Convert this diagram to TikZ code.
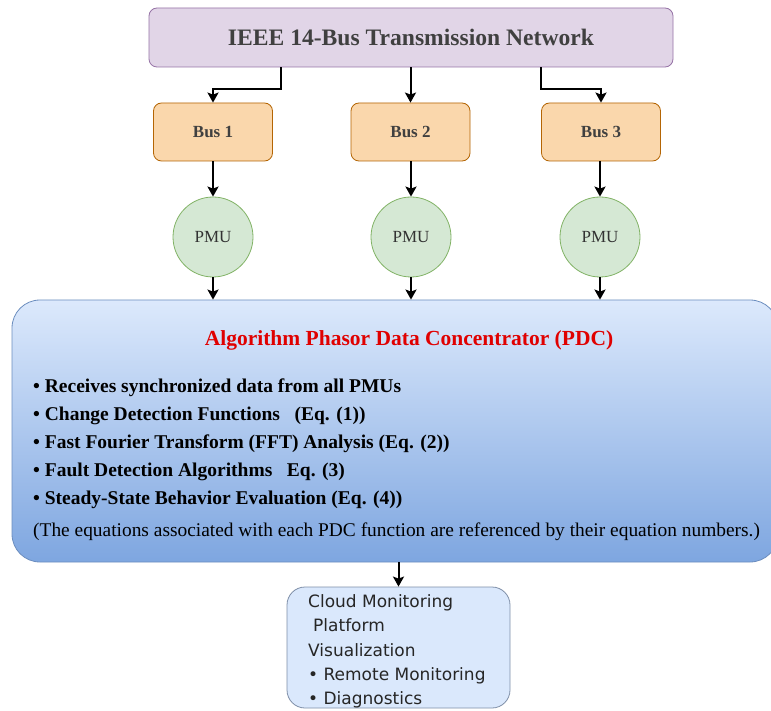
\documentclass[tikz,border=0pt]{standalone}
\usepackage{fontspec}
\setmainfont{Liberation Serif}
\newfontfamily\dejavu{DejaVu Sans}
\usetikzlibrary{arrows.meta,calc}
\definecolor{netfill}{HTML}{E1D5E7}
\definecolor{netline}{HTML}{9673A6}
\definecolor{busfill}{HTML}{FAD7AC}
\definecolor{busline}{HTML}{B46504}
\definecolor{pmufill}{HTML}{D5E8D4}
\definecolor{pmuline}{HTML}{82B366}
\definecolor{pdctop}{HTML}{DCE9FC}
\definecolor{pdcbot}{HTML}{7EA6E0}
\definecolor{pdcline}{HTML}{6C8EBF}
\definecolor{cloudfill}{HTML}{DAE8FC}
\definecolor{cloudline}{HTML}{7F8FA8}
\definecolor{titlegray}{HTML}{404040}
\definecolor{pdcred}{HTML}{E00000}
\tikzset{
  arr/.style={line width=2pt,-{Stealth[length=10pt,width=11pt,inset=2pt]}},
  netbox/.style={draw=netline,fill=netfill,line width=0.8pt,rounded corners=8pt,
    minimum width=524pt,minimum height=59pt,inner sep=0pt,
    font=\fontsize{23.6}{26}\selectfont\bfseries,text=titlegray},
  busbox/.style={draw=busline,fill=busfill,line width=0.8pt,rounded corners=8pt,
    minimum width=119pt,minimum height=58pt,inner sep=0pt,
    font=\fontsize{17}{20}\selectfont\bfseries,text=titlegray},
  pmunode/.style={circle,draw=pmuline,fill=pmufill,line width=0.8pt,
    minimum size=80pt,inner sep=0pt,font=\fontsize{17}{20}\selectfont,text=black!80},
  pdcbox/.style={draw=pdcline,line width=0.8pt,rounded corners=28pt,
    top color=pdctop,bottom color=pdcbot,minimum width=766pt,minimum height=262pt,inner sep=0pt},
  cloudbox/.style={draw=cloudline,fill=cloudfill,line width=0.8pt,rounded corners=18pt,
    minimum width=223pt,minimum height=121pt,inner sep=0pt},
  bul/.style={anchor=base west,inner sep=0pt,font=\fontsize{19.5}{22}\selectfont\bfseries},
  cl/.style={anchor=base west,inner sep=0pt,font=\dejavu\fontsize{17}{20}\selectfont,text=black!85},
}
\begin{document}
\begin{tikzpicture}[x=1pt,y=-1pt]
\useasboundingbox (0,0) rectangle (771,711);
\fill[white] (0,0) rectangle (771,711);

% network and buses
\node[netbox] (net) at (411,37.5) {IEEE 14-Bus Transmission Network};
\node[busbox] (bus1) at (213,132) {Bus 1};
\node[busbox] (bus2) at (410.5,132) {Bus 2};
\node[busbox] (bus3) at (601,132) {Bus 3};

% measurement units
\node[pmunode] (pmu1) at (213,237) {PMU};
\node[pmunode] (pmu2) at (411,237) {PMU};
\node[pmunode] (pmu3) at (600,237) {PMU};

% concentrator
\node[pdcbox] (pdc) at (395,431) {};
\node[anchor=base,inner sep=0pt,text=pdcred,font=\fontsize{21.5}{24}\selectfont\bfseries]
  (pdctitle) at (409,345) {Algorithm Phasor Data Concentrator (PDC)};
\node[bul] (b1) at (33,392) {\textbullet\ Receives synchronized data from all PMUs};
\node[bul] (b2) at (33,420) {\textbullet\ Change Detection Functions\ \ \ (Eq. (1))};
\node[bul] (b3) at (33,448) {\textbullet\ Fast Fourier Transform (FFT) Analysis (Eq. (2))};
\node[bul] (b4) at (33,476) {\textbullet\ Fault Detection Algorithms\ \ \ Eq. (3)};
\node[bul] (b5) at (33,504) {\textbullet\ Steady-State Behavior Evaluation (Eq. (4))};
\node[anchor=base west,inner sep=0pt,font=\fontsize{19.4}{22}\selectfont] (note) at (33,536)
  {(The equations associated with each PDC function are referenced by their equation numbers.)};

% cloud platform
\node[cloudbox] (cloud) at (398.5,647.5) {};
\node[cl] (c1) at (308,607) {Cloud Monitoring};
\node[cl] (c2) at (313,631.5) {Platform};
\node[cl] (c3) at (308,656) {Visualization};
\node[cl] (c4) at (308,680) {\textbullet\ Remote Monitoring};
\node[cl] (c5) at (308,704) {\textbullet\ Diagnostics};

% connectors
\draw[arr] ([xshift=-130pt]net.south) -- ++(0pt,-22pt) -| (bus1.north);
\draw[arr] (net.south -| bus2.north) -- (bus2.north);
\draw[arr] ([xshift=130pt]net.south) -- ++(0pt,-22pt) -| (bus3.north);
\foreach \i in {1,2,3}{
  \draw[arr] (bus\i.south -| pmu\i.north) -- (pmu\i.north);
  \draw[arr] (pmu\i.south) -- (pmu\i.south |- pdc.north);
}
\draw[arr] (pdc.south -| cloud.north) -- (cloud.north);
\end{tikzpicture}
\end{document}
